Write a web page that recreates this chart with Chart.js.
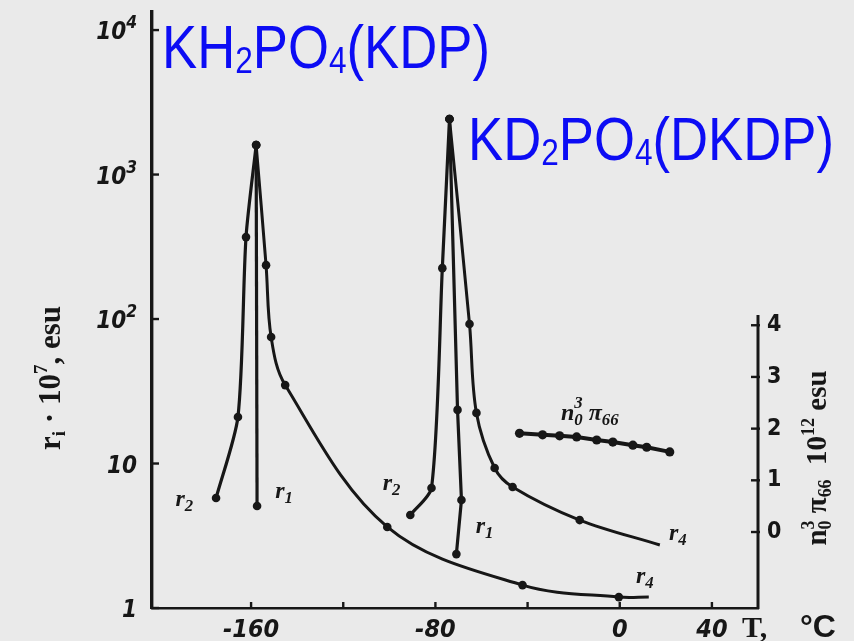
<!DOCTYPE html>
<html>
<head>
<meta charset="utf-8">
<script src="https://cdn.jsdelivr.net/npm/chart.js@4"></script>
<style>
  html, body { margin: 0; padding: 0; background: #eaeaea; }
  #wrap { width: 854px; height: 641px; }
</style>
</head>
<body>
<div id="wrap"><canvas id="c" width="854" height="641"></canvas></div>
<script>
// Electro-optic coefficients r·10^7 (esu) against temperature T (°C)
// KH2PO4 (KDP)
const kdpR2T = [-175.2, -165.7, -162.2, -157.8];
const kdpR2  = [5.77, 21.0, 369, 1600];
const kdpR1T = [-157.8, -157.4];
const kdpR1  = [1600, 5.08];
const kdpR4T = [-157.8, -153.5, -151.3, -145.2, -100.9, -42.2, -0.4, 12.6];
const kdpR4  = [1600, 236, 75, 34.9, 3.64, 1.44, 1.19, 1.19];

// KD2PO4 (DKDP)
const dkdpR2T = [-90.9, -81.7, -77.0, -73.9];
const dkdpR2  = [4.40, 6.77, 225, 2422];
const dkdpR1T = [-73.9, -70.4, -68.7, -70.9];
const dkdpR1  = [2422, 23.5, 5.59, 2.36];
const dkdpR4T = [-73.9, -65.2, -62.2, -54.3, -46.5, -17.4, 17.4];
const dkdpR4  = [2422, 92.3, 22.4, 9.31, 6.88, 4.06, 2.73];

// Piezo-optic product n0^3·π66, 10^12 esu (right axis)
const pi66T = [-43.5, -33.5, -26.1, -18.7, -10.0, -3.0, 5.7, 11.7, 21.7];
const pi66  = [1.91, 1.88, 1.86, 1.84, 1.78, 1.74, 1.68, 1.64, 1.55];

// Axis ticks
const tempTicks  = [-160, -120, -80, -40, 0, 40];
const tempLabels = ['-160', '', '-80', '', '0', '40'];
const rTicks  = [1, 10, 100, 1000, 10000];
const rLabels = ['1', '10', '10^2', '10^3', '10^4'];
const piTicks = [0, 1, 2, 3, 4];

const ink = '#171717';
const blue = '#0c0cf4';
const tickFont = "'DejaVu Sans Condensed', 'Liberation Sans Narrow', sans-serif";
const serif = "'Liberation Serif', 'DejaVu Serif', serif";
const sans = "'Liberation Sans', Arial, sans-serif";

const pts = (xs, ys) => xs.map((x, i) => ({ x, y: ys[i] }));

function branch(label, xs, ys, extra) {
  return Object.assign({
    label,
    data: pts(xs, ys),
    yAxisID: 'y',
    showLine: true,
    fill: false,
    borderColor: ink,
    backgroundColor: ink,
    borderWidth: 3.2,
    pointRadius: 4.3,
    pointHoverRadius: 4.3,
    pointBorderWidth: 0,
    tension: 0.35
  }, extra || {});
}
// the fitted r4 curves run past their last measured point
const openEnd = ctx => (ctx.dataIndex === ctx.dataset.data.length - 1 ? 0 : 4.3);

// Rich text: [text, kind] with kind 'n' normal, 'b' subscript, 'p' superscript;
// a third element true keeps the pen in place so a sup can stack over a sub.
function richWidth(ctx, parts, f) {
  let w = 0, hold = 0;
  for (const [t, k, keep] of parts) {
    const size = k === 'n' ? f.size : f.size * f.small;
    ctx.font = `${f.style || 'normal'} ${f.weight || 'normal'} ${size}px ${f.family}`;
    const tw = ctx.measureText(t).width;
    if (keep) hold = tw; else { w += Math.max(tw, hold); hold = 0; }
  }
  return w;
}
function drawRich(ctx, x, y, parts, f) {
  let cx = x, hold = 0;
  ctx.textBaseline = 'alphabetic';
  ctx.textAlign = 'left';
  for (const [t, k, keep] of parts) {
    const size = k === 'n' ? f.size : f.size * f.small;
    ctx.font = `${f.style || 'normal'} ${f.weight || 'normal'} ${size}px ${f.family}`;
    const dy = k === 'b' ? f.drop : k === 'p' ? -f.rise : 0;
    ctx.fillText(t, cx, y + dy);
    const tw = ctx.measureText(t).width;
    if (keep) hold = tw; else { cx += Math.max(tw, hold); hold = 0; }
  }
}

// curve tags placed in data coordinates
const curveTags = [
  { parts: [['r', 'n'], ['2', 'b']], t: -189, v: 5.77, axis: 'y' },
  { parts: [['r', 'n'], ['1', 'b']], t: -145.7, v: 6.56, axis: 'y' },
  { parts: [['r', 'n'], ['2', 'b']], t: -99, v: 7.45, axis: 'y' },
  { parts: [['r', 'n'], ['1', 'b']], t: -58.7, v: 3.75, axis: 'y' },
  { parts: [['r', 'n'], ['4', 'b']], t: 25.2, v: 3.36, axis: 'y' },
  { parts: [['r', 'n'], ['4', 'b']], t: 10.9, v: 1.69, axis: 'y' },
  { parts: [['n', 'n'], ['0', 'b', true], ['3', 'p'], [' π', 'n'], ['66', 'b']], t: -13, v: 2.32, axis: 'y2' }
];
const piAxisTop = 4.2;

const decor = {
  id: 'decor',
  beforeDraw(chart) {
    const c = chart.ctx;
    c.save();
    c.fillStyle = '#eaeaea';
    c.fillRect(0, 0, chart.width, chart.height);
    c.restore();
  },
  afterDraw(chart) {
    const { ctx: c, chartArea: a, scales } = chart;
    const { x, y, y2 } = scales;
    const line = (x1, y1, x2, y2_) => { c.beginPath(); c.moveTo(x1, y1); c.lineTo(x2, y2_); c.stroke(); };
    c.save();
    c.strokeStyle = ink;
    c.fillStyle = ink;
    c.lineCap = 'butt';

    // inward tick marks
    c.lineWidth = 2.4;
    tempTicks.forEach(v => { const px = x.getPixelForValue(v); line(px, a.bottom, px, a.bottom - 6); });
    rTicks.forEach(v => { const py = y.getPixelForValue(v); line(a.left, py, a.left + 7, py); });

    // decade labels of the log axis, with raised exponents
    const yf = { size: 24, small: 0.72, drop: 0, rise: 11, family: tickFont, style: 'italic', weight: 'bold' };
    rTicks.forEach((v, i) => {
      const [base, exp] = rLabels[i].split('^');
      const parts = exp ? [[base, 'n'], [exp, 'p']] : [[base, 'n']];
      const w = richWidth(c, parts, yf);
      drawRich(c, a.left - 15 - w, y.getPixelForValue(v) + 9, parts, yf);
    });

    // right-hand axis for n0^3·π66
    c.lineWidth = 3;
    line(a.right, a.bottom + 1, a.right, y2.getPixelForValue(piAxisTop));
    c.lineWidth = 2.4;
    piTicks.forEach(v => { const py = y2.getPixelForValue(v); line(a.right - 7, py, a.right + 2, py); });

    // curve tags
    curveTags.forEach(tag => {
      const px = x.getPixelForValue(tag.t);
      const py = scales[tag.axis].getPixelForValue(tag.v);
      const f = { size: 24, small: 0.7, drop: 5, rise: 12, family: serif, style: 'italic', weight: 'bold' };
      const w = richWidth(c, tag.parts, f);
      drawRich(c, px - w / 2, py + 8, tag.parts, f);
    });

    // left axis title
    const lf = { size: 31, small: 0.62, drop: 5, rise: 13, family: serif, weight: 'bold' };
    const lParts = [['r', 'n'], ['i', 'b'], [' · 10', 'n'], ['7', 'p'], [', esu', 'n']];
    c.save();
    c.translate(60, 378);
    c.rotate(-Math.PI / 2);
    const lw = richWidth(c, lParts, lf);
    drawRich(c, -lw / 2, 0, lParts, lf);
    c.restore();

    // right axis title
    const rf = { size: 29, small: 0.62, drop: 5, rise: 12, family: serif, weight: 'bold' };
    const rParts = [['n', 'n'], ['0', 'b', true], ['3', 'p'], [' π', 'n'], ['66', 'b'], ['  10', 'n'], ['12', 'p'], [' esu', 'n']];
    c.save();
    c.translate(826, 458);
    c.rotate(-Math.PI / 2);
    const rw = richWidth(c, rParts, rf);
    drawRich(c, -rw / 2, 0, rParts, rf);
    c.restore();

    // x axis title
    c.font = `bold 30px ${serif}`;
    c.textAlign = 'left';
    c.textBaseline = 'alphabetic';
    c.fillText('T,', 742, 637);
    c.font = `bold 32px ${sans}`;
    c.fillText('°C', 800, 637);

    // compound names
    c.fillStyle = blue;
    const tf = { size: 62, small: 0.6, drop: 5, rise: 0, family: sans };
    c.save();
    c.translate(162, 68);
    c.scale(0.85, 1);
    drawRich(c, 0, 0, [['KH', 'n'], ['2', 'b'], ['PO', 'n'], ['4', 'b'], ['(KDP)', 'n']], tf);
    c.restore();
    c.save();
    c.translate(468, 160);
    c.scale(0.85, 1);
    drawRich(c, 0, 0, [['KD', 'n'], ['2', 'b'], ['PO', 'n'], ['4', 'b'], ['(DKDP)', 'n']], tf);
    c.restore();

    c.restore();
  }
};

// keep the plot frame where it is: no extra room for edge tick labels
const noEdgePad = s => { s.paddingTop = 0; s.paddingBottom = 0; s.paddingLeft = 0; s.paddingRight = 0; };

new Chart(document.getElementById('c'), {
  type: 'scatter',
  data: {
    datasets: [
      branch('KDP r2', kdpR2T, kdpR2, { tension: 0.25 }),
      branch('KDP r1', kdpR1T, kdpR1, { tension: 0 }),
      branch('KDP r4', kdpR4T, kdpR4, { pointRadius: openEnd, borderWidth: 3 }),
      branch('DKDP r2', dkdpR2T, dkdpR2, { tension: 0.25 }),
      branch('DKDP r1', dkdpR1T, dkdpR1, { tension: 0 }),
      branch('DKDP r4', dkdpR4T, dkdpR4, { pointRadius: openEnd, borderWidth: 3 }),
      branch('n0^3 π66', pi66T, pi66, { yAxisID: 'y2', tension: 0, pointRadius: 4.6, borderWidth: 4 })
    ]
  },
  options: {
    responsive: false,
    animation: false,
    events: [],
    layout: { padding: { top: 12, left: 0, right: 0, bottom: 0 } },
    plugins: { legend: { display: false }, tooltip: { enabled: false }, title: { display: false } },
    scales: {
      x: {
        type: 'linear',
        position: 'bottom',
        min: -203,
        max: 60,
        afterBuildTicks: s => { s.ticks = tempTicks.map(v => ({ value: v })); },
        afterFit: s => { s.height = 33; noEdgePad(s); },
        grid: { display: false, drawTicks: false },
        border: { display: true, color: ink, width: 2.6 },
        ticks: {
          autoSkip: false,
          maxRotation: 0,
          padding: 7,
          color: ink,
          font: { family: tickFont, size: 25, style: 'italic', weight: 'bold' },
          callback: v => { const i = tempTicks.indexOf(v); return i < 0 ? '' : tempLabels[i]; }
        }
      },
      y: {
        type: 'logarithmic',
        position: 'left',
        min: 1,
        max: 13335,
        afterBuildTicks: s => { s.ticks = rTicks.map(v => ({ value: v })); },
        afterFit: s => { s.width = 152; noEdgePad(s); },
        grid: { display: false, drawTicks: false },
        border: { display: true, color: ink, width: 3.4 },
        ticks: { display: false }
      },
      y2: {
        type: 'linear',
        position: 'right',
        min: -1.47,
        max: 10.06,
        afterBuildTicks: s => { s.ticks = piTicks.map(v => ({ value: v })); },
        afterFit: s => { s.width = 96; noEdgePad(s); },
        grid: { display: false, drawTicks: false, drawOnChartArea: false },
        border: { display: false },
        ticks: {
          autoSkip: false,
          padding: 9,
          color: ink,
          font: { family: tickFont, size: 23, weight: 'bold' },
          callback: v => String(v)
        }
      }
    }
  },
  plugins: [decor]
});
</script>
</body>
</html>
